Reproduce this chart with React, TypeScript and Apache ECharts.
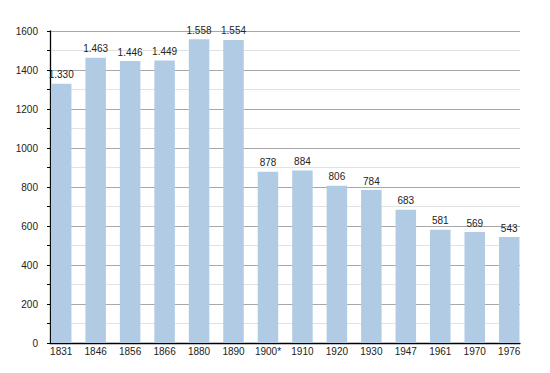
import React, { useEffect, useRef } from "react";
import * as echarts from "echarts";

const categories = ["1831", "1846", "1856", "1866", "1880", "1890", "1900*", "1910", "1920", "1930", "1947", "1961", "1970", "1976"];
const populationValues = [1330, 1463, 1446, 1449, 1558, 1554, 878, 884, 806, 784, 683, 581, 569, 543];
const yTickValues = [0, 200, 400, 600, 800, 1000, 1200, 1400, 1600];

function fmtThousands(v: number): string {
  const s = String(Math.round(v));
  return s.replace(/\B(?=(\d{3})+(?!\d))/g, ".");
}

export default function App() {
  const ref = useRef<HTMLDivElement>(null);
  useEffect(() => {
    document.body.style.margin = "0";
    if (!ref.current) return;
    const chart = echarts.init(ref.current, undefined, { renderer: "svg" });
    const font = "'Liberation Sans', Arial, Helvetica, sans-serif";
    const yMin = yTickValues[0];
    const yMax = yTickValues[yTickValues.length - 1];
    chart.setOption({
      animation: false,
      backgroundColor: "#ffffff",
      grid: [
        { left: 50, right: 30, top: 31, bottom: 30, containLabel: false },
        { left: 61.2, right: 40.8, top: 31, bottom: 30, containLabel: false },
      ],
      xAxis: [
        {
          gridIndex: 0,
          type: "value",
          min: 0,
          max: 1,
          axisLine: { show: true, lineStyle: { color: "#000000", width: 1.3 } },
          axisTick: { show: false },
          axisLabel: { show: false },
          splitLine: { show: false },
        },
        {
          gridIndex: 1,
          type: "category",
          data: categories,
          boundaryGap: false,
          axisLine: { show: false },
          axisTick: { show: false },
          axisLabel: { interval: 0, fontSize: 10, color: "#222222", fontFamily: font, margin: 3 },
          splitLine: { show: false },
        },
      ],
      yAxis: [
        {
          gridIndex: 0,
          type: "value",
          min: yMin,
          max: yMax,
          interval: 200,
          axisLine: { show: true, lineStyle: { color: "#000000", width: 1.3 } },
          axisTick: { show: true, length: 3, lineStyle: { color: "#000000" } },
          minorTick: { show: true, splitNumber: 2, length: 3, lineStyle: { color: "#000000" } },
          axisLabel: {
            fontSize: 10,
            color: "#222222",
            fontFamily: font,
            margin: 12,
            formatter: (v: number) => String(v),
          },
          splitLine: { show: true, lineStyle: { color: "#a8a8a8", width: 1 } },
          minorSplitLine: { show: true, lineStyle: { color: "#e2e2e2", width: 1 } },
        },
        {
          gridIndex: 1,
          type: "value",
          min: yMin,
          max: yMax,
          show: false,
          splitLine: { show: false },
        },
      ],
      series: [
        {
          type: "bar",
          xAxisIndex: 1,
          yAxisIndex: 1,
          data: populationValues,
          barWidth: 20.5,
          clip: false,
          itemStyle: { color: "#b1cbe5" },
          label: {
            show: true,
            position: "top",
            distance: 4,
            fontSize: 10,
            color: "#222222",
            fontFamily: font,
            formatter: (p: any) => fmtThousands(p.value),
          },
        },
      ],
    });
    return () => chart.dispose();
  }, []);
  return <div ref={ref} style={{ width: 550, height: 373 }} />;
}
